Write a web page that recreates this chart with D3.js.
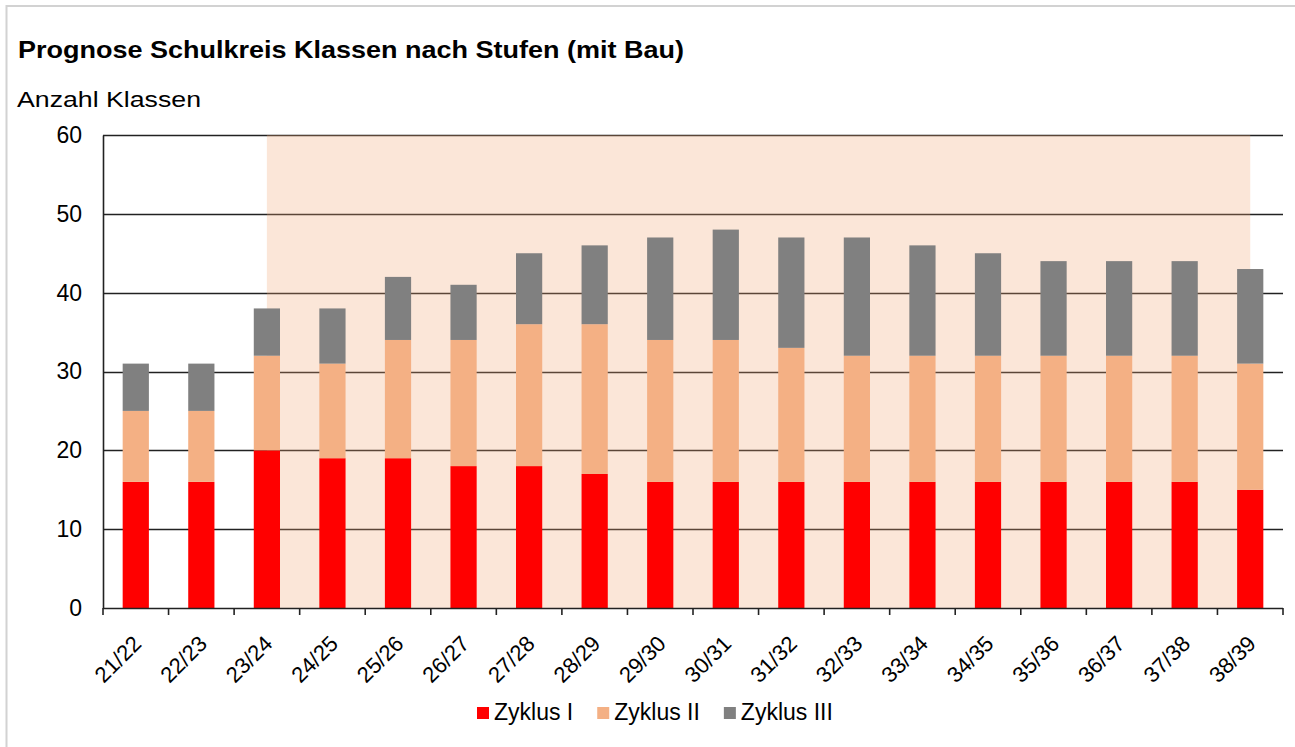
<!DOCTYPE html>
<html>
<head>
<meta charset="utf-8">
<script src="https://cdn.jsdelivr.net/npm/d3@7"></script>
<style>
  body { margin: 0; background: #fff; }
  text { font-family: "Liberation Sans", Arial, sans-serif; fill: #000; }
</style>
</head>
<body>
<div id="chart"></div>
<script>
// school years
const years = ['21/22','22/23','23/24','24/25','25/26','26/27','27/28','28/29','29/30',
  '30/31','31/32','32/33','33/34','34/35','35/36','36/37','37/38','38/39'];
// classes per cycle
const zyklus1 = [16,16,20,19,19,18,18,17,16,16,16,16,16,16,16,16,16,15];
const zyklus2 = [9,9,12,12,15,16,18,19,18,18,17,16,16,16,16,16,16,16];
const zyklus3 = [6,6,6,7,8,7,9,10,13,14,14,15,14,13,12,12,12,12];
const seriesNames = ['Zyklus I', 'Zyklus II', 'Zyklus III'];
const yTicks = [0,10,20,30,40,50,60];
// shaded period (with construction)
const shadeFrom = '23/24', shadeTo = '38/39';

const W = 1295, H = 747;
const margin = {top: 135, right: 12, bottom: 139, left: 103};
const width = W - margin.left - margin.right;
const height = H - margin.top - margin.bottom;
const colors = ['#ff0000', '#f4b084', '#808080'];

const svg = d3.select('#chart').append('svg')
  .attr('width', W).attr('height', H);

// outer frame (only left and top visible)
svg.append('rect')
  .attr('x', 6.5).attr('y', 6)
  .attr('width', W + 10).attr('height', H + 10)
  .attr('fill', 'none').attr('stroke', '#d2d2d2').attr('stroke-width', 2);

svg.append('text')
  .attr('x', 18).attr('y', 58)
  .attr('textLength', 666).attr('lengthAdjust', 'spacingAndGlyphs')
  .style('font-size', '24px').style('font-weight', 'bold')
  .text('Prognose Schulkreis Klassen nach Stufen (mit Bau)');

svg.append('text')
  .attr('x', 17).attr('y', 107)
  .attr('textLength', 184).attr('lengthAdjust', 'spacingAndGlyphs')
  .style('font-size', '22px')
  .text('Anzahl Klassen');

const g = svg.append('g').attr('transform', `translate(${margin.left},${margin.top})`);

const x = d3.scaleBand().domain(years).range([0, width]).paddingInner(0.6).paddingOuter(0.3);
const y = d3.scaleLinear().domain([0, 60]).range([height, 0]);

// gridlines
g.append('g').selectAll('line').data(yTicks.filter(d => d > 0)).join('line')
  .attr('x1', 0).attr('x2', width)
  .attr('y1', d => Math.round(y(d)) + 0.5).attr('y2', d => Math.round(y(d)) + 0.5)
  .attr('stroke', '#222').attr('stroke-width', 1.6);

// shaded area
const cx = d => x(d) + x.bandwidth() / 2;
g.append('rect')
  .attr('x', cx(shadeFrom)).attr('y', 0)
  .attr('width', cx(shadeTo) - cx(shadeFrom)).attr('height', height)
  .attr('fill', 'rgb(240,165,115)').attr('opacity', 0.28);

// stacked bars
const table = years.map((yr, i) => ({year: yr, 'Zyklus I': zyklus1[i], 'Zyklus II': zyklus2[i], 'Zyklus III': zyklus3[i]}));
const stacked = d3.stack().keys(seriesNames)(table);

g.append('g').selectAll('g').data(stacked).join('g')
  .attr('fill', (d, i) => colors[i])
  .selectAll('rect').data(d => d).join('rect')
  .attr('x', d => x(d.data.year))
  .attr('y', d => y(d[1]))
  .attr('width', x.bandwidth())
  .attr('height', d => y(d[0]) - y(d[1]));

// y axis
const yAxis = g.append('g')
  .call(d3.axisLeft(y).tickValues(yTicks).tickSize(0).tickPadding(21));
yAxis.select('.domain').attr('stroke', '#222').attr('stroke-width', 1.6);
yAxis.selectAll('text').style('font-size', '23px').attr('fill', '#000')
  .style('font-family', '"Liberation Sans", Arial, sans-serif');

// x axis with ticks at category boundaries
const xAxis = g.append('g').attr('transform', `translate(0,${height})`);
xAxis.append('line').attr('x1', 0).attr('x2', width).attr('y1', 0.5).attr('y2', 0.5)
  .attr('stroke', '#222').attr('stroke-width', 1.6);
const step = x.step();
xAxis.selectAll('.tk').data(d3.range(years.length + 1)).join('line')
  .attr('class', 'tk')
  .attr('x1', i => i * step).attr('x2', i => i * step)
  .attr('y1', 0).attr('y2', 7)
  .attr('stroke', '#222').attr('stroke-width', 1.6);
xAxis.selectAll('.lbl').data(years).join('text')
  .attr('class', 'lbl')
  .attr('transform', d => `translate(${cx(d) + 7},${37}) rotate(-45)`)
  .attr('text-anchor', 'end')
  .style('font-size', '22px')
  .text(d => d);

// legend
const legend = svg.append('g').attr('transform', 'translate(477,707)');
seriesNames.forEach((name, i) => {
  const item = legend.append('g');
  item.append('rect').attr('width', 12).attr('height', 12).attr('fill', colors[i]);
  item.append('text').attr('x', 17).attr('y', 13).style('font-size', '23px').text(name);
});
// position legend items after measuring text
let pos = 0;
legend.selectAll('g').each(function () {
  d3.select(this).attr('transform', `translate(${pos},0)`);
  pos += 17 + d3.select(this).select('text').node().getComputedTextLength() + 24;
});
</script>
</body>
</html>
